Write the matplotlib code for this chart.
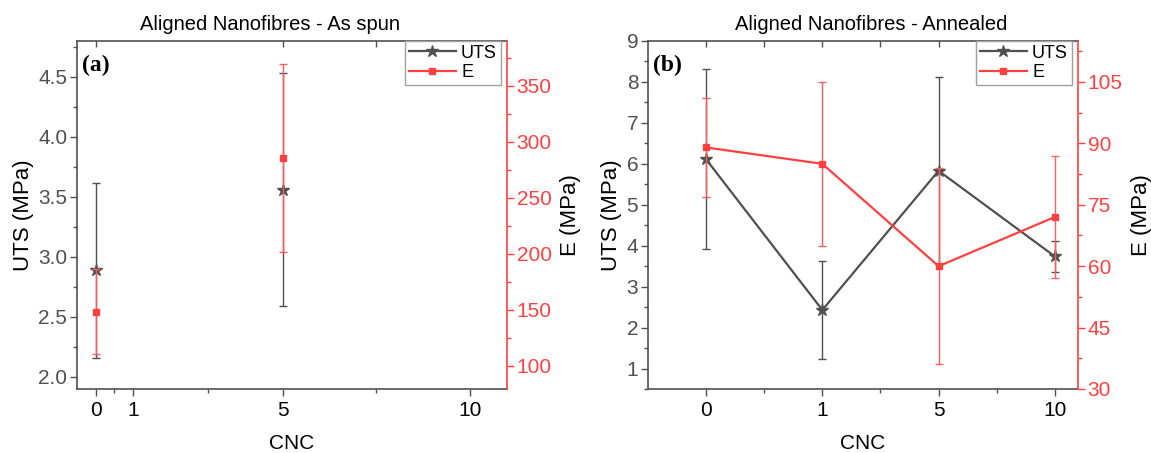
import numpy as np
import matplotlib
matplotlib.use("Agg")
import matplotlib.pyplot as plt
from matplotlib.lines import Line2D
from matplotlib.ticker import FixedLocator, MultipleLocator

plt.rcParams['font.family'] = ['Liberation Sans', 'DejaVu Sans']

GRAY = '#505050'
RED = '#ff4040'
RED_ERR = '#ff5c5c'

# as spun: CNC content plotted at its numeric value
cnc_spun = [0, 5]
uts_spun = [2.89, 3.56]
uts_spun_err = [0.73, 0.97]
e_spun = [148, 285]
e_spun_err = [38, 84]

# annealed: CNC content plotted as categories
cnc_ann = ['0', '1', '5', '10']
uts_ann = [6.11, 2.43, 5.83, 3.74]
uts_ann_err = [2.2, 1.2, 2.28, 0.38]
e_ann = [89, 85, 60, 72]
e_ann_err = [12, 20, 24, 15]

fig = plt.figure(figsize=(11.51, 4.53), dpi=100)
ax1 = fig.add_axes([77/1151, 64/453, 430/1151, 348/453])
ax2 = fig.add_axes([648/1151, 64/453, 430/1151, 348/453])


def style_axes(ax, tw, top_ticks):
    for s in ['left', 'bottom', 'top']:
        ax.spines[s].set_color(GRAY)
        ax.spines[s].set_linewidth(1.2)
    ax.spines['right'].set_visible(False)
    ax.tick_params(axis='y', which='both', direction='out', colors=GRAY,
                   labelsize=15, labelcolor=GRAY, width=1, pad=2)
    ax.tick_params(axis='y', which='major', length=5)
    ax.tick_params(axis='y', which='minor', length=3)
    ax.tick_params(axis='x', which='both', direction='out', colors=GRAY,
                   labelsize=15, labelcolor='black', width=1)
    ax.tick_params(axis='x', which='major', length=5)
    ax.tick_params(axis='x', which='minor', length=3)
    ax.set_xlabel('CNC', fontsize=15, labelpad=10)
    ax.set_ylabel('UTS (MPa)', fontsize=16, labelpad=3)

    # inward ticks along the top edge
    top = ax.secondary_xaxis('top')
    top.spines['top'].set_visible(False)
    top.set_xticks(top_ticks)
    top.tick_params(axis='x', direction='in', length=4, width=1,
                    colors=GRAY, labeltop=False)

    tw.spines['right'].set_color(RED)
    tw.spines['right'].set_linewidth(1.2)
    for s in ['left', 'bottom', 'top']:
        tw.spines[s].set_visible(False)
    tw.tick_params(axis='y', which='both', direction='out', colors=RED,
                   labelsize=15, labelcolor=RED, width=1, pad=2)
    tw.tick_params(axis='y', which='major', length=5)
    tw.tick_params(axis='y', which='minor', length=3)
    tw.set_ylabel('E (MPa)', fontsize=16, labelpad=6)


def add_legend(tw):
    handles = [Line2D([], [], color=GRAY, lw=1.6, marker='*', ms=9),
               Line2D([], [], color=RED, lw=1.6, marker='s', ms=4)]
    leg = tw.legend(handles, ['UTS', 'E'], loc='upper right', fontsize=13,
                    fancybox=False, framealpha=1, edgecolor='#a0a0a0',
                    handlelength=2.6, handletextpad=0.3, borderpad=0.2,
                    labelspacing=0.15, borderaxespad=0.0,
                    bbox_to_anchor=(0.985, 1.0))
    leg.get_frame().set_linewidth(1)


# (a) as spun
tw1 = ax1.twinx()
ax1.errorbar(cnc_spun, uts_spun, yerr=uts_spun_err, color=GRAY, ls='none',
             marker='*', ms=9, elinewidth=1, capsize=3, capthick=1)
tw1.errorbar(cnc_spun, e_spun, yerr=e_spun_err, color=RED, ecolor=RED_ERR,
             ls='none', marker='s', ms=4, elinewidth=1, capsize=3, capthick=1)
ax1.set_xlim(-0.5, 11)
ax1.xaxis.set_major_locator(FixedLocator([0, 1, 5, 10]))
ax1.xaxis.set_minor_locator(FixedLocator([0.5, 3, 7.5]))
ax1.set_ylim(1.9, 4.8)
ax1.yaxis.set_major_locator(MultipleLocator(0.5))
ax1.yaxis.set_minor_locator(MultipleLocator(0.25))
tw1.set_ylim(79, 390)
tw1.yaxis.set_major_locator(MultipleLocator(50))
tw1.yaxis.set_minor_locator(MultipleLocator(25))
style_axes(ax1, tw1, [0, 5, 7.5, 10])
ax1.set_title('Aligned Nanofibres - As spun', fontsize=14.5, pad=8, x=0.45)
ax1.text(0.012, 0.93, '(a)', transform=ax1.transAxes, fontsize=17,
         fontweight='bold', family='Liberation Serif', va='center')
add_legend(tw1)

# (b) annealed
tw2 = ax2.twinx()
x_ann = np.arange(len(cnc_ann))
ax2.errorbar(x_ann, uts_ann, yerr=uts_ann_err, color=GRAY, lw=1.6,
             marker='*', ms=9, elinewidth=1, capsize=3, capthick=1)
tw2.errorbar(x_ann, e_ann, yerr=e_ann_err, color=RED, ecolor=RED_ERR, lw=1.6,
             marker='s', ms=4, elinewidth=1, capsize=3, capthick=1)
ax2.set_xlim(-0.5, 3.2)
ax2.set_xticks(x_ann, cnc_ann)
ax2.xaxis.set_minor_locator(FixedLocator(x_ann[:-1] + 0.5))
ax2.set_ylim(0.5, 9)
ax2.yaxis.set_major_locator(MultipleLocator(1))
ax2.yaxis.set_minor_locator(MultipleLocator(0.5))
tw2.set_ylim(30, 115)
tw2.yaxis.set_major_locator(MultipleLocator(15))
tw2.yaxis.set_minor_locator(MultipleLocator(7.5))
style_axes(ax2, tw2, np.arange(0, 3.01, 0.5))
ax2.set_title('Aligned Nanofibres - Annealed', fontsize=14.5, pad=8, x=0.52)
ax2.text(0.012, 0.93, '(b)', transform=ax2.transAxes, fontsize=17,
         fontweight='bold', family='Liberation Serif', va='center')
add_legend(tw2)

fig.savefig('out.png', dpi=100)
